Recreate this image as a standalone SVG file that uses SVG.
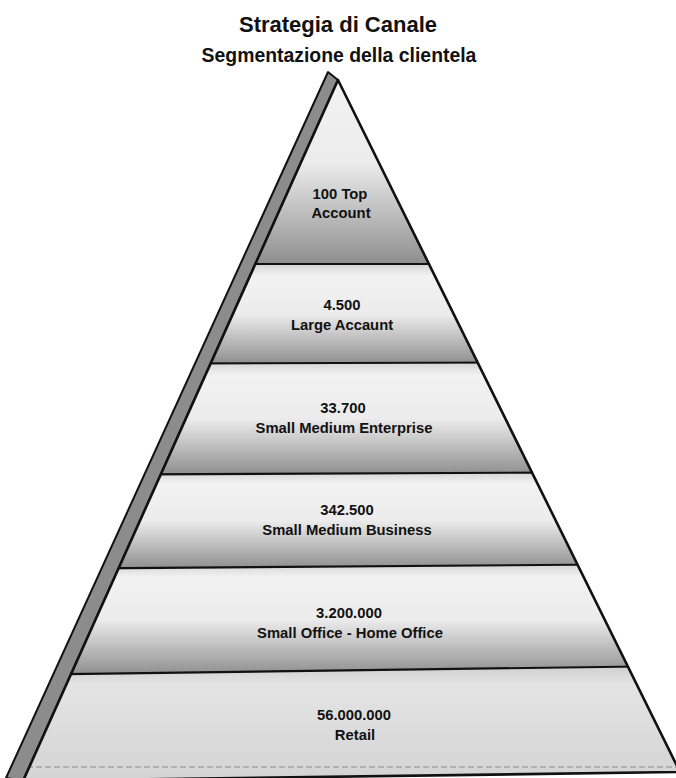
<svg xmlns="http://www.w3.org/2000/svg" width="676" height="778" viewBox="0 0 676 778">
  <style>
    .title { font-family: "Liberation Sans", Arial, sans-serif; font-weight: bold; fill: #111; text-anchor: middle; }
    .lbl { font-family: "Liberation Sans", Arial, sans-serif; font-weight: bold; font-size: 14.8px; fill: #111; text-anchor: middle; }
    .sep { stroke: #111; stroke-width: 2.2; fill: none; }
    .band { fill: url(#bandShade); stroke: none; }
    .edge { stroke: #111; stroke-width: 2.6; fill: none; stroke-linejoin: round; }
  </style>
  <defs>
    <!-- light at the top of each tier, darkening towards its lower edge -->
    <linearGradient id="bandShade" x1="0" y1="0" x2="0" y2="1">
      <stop offset="0" stop-color="#d4d4d4"/>
      <stop offset="0.12" stop-color="#f2f2f2"/>
      <stop offset="0.5" stop-color="#ececec"/>
      <stop offset="0.8" stop-color="#b4b4b4"/>
      <stop offset="1" stop-color="#8e8e8e"/>
    </linearGradient>
    <linearGradient id="baseShade" x1="0" y1="0" x2="0" y2="1">
      <stop offset="0" stop-color="#cfcfcf"/>
      <stop offset="0.15" stop-color="#e4e4e4"/>
      <stop offset="1" stop-color="#d2d2d2"/>
    </linearGradient>
    <clipPath id="pyr">
      <polygon points="338,80 680,772 23,781"/>
    </clipPath>
  </defs>

  <rect width="676" height="778" fill="#fff"/>

  <text class="title" x="338" y="32" font-size="22">Strategia di Canale</text>
  <text class="title" x="339" y="62" font-size="19.4">Segmentazione della clientela</text>

  <!-- side face of the pyramid -->
  <g id="side-face">
    <polygon points="328,72 6,778 23,781 338,80" fill="#8c8c8c" stroke="#111" stroke-width="2" stroke-linejoin="round"/>
  </g>

  <g clip-path="url(#pyr)">
    <g id="tier-1">
      <polygon class="band" points="0,60 676,60 676,264 0,264"/>
      <text class="lbl" x="340" y="199">100 Top</text>
      <text class="lbl" x="341" y="218">Account</text>
    </g>
    <g id="tier-2">
      <polygon class="band" points="0,264 676,264 676,362 0,364"/>
      <text class="lbl" x="342" y="310">4.500</text>
      <text class="lbl" x="342" y="330">Large Accaunt</text>
    </g>
    <g id="tier-3">
      <polygon class="band" points="0,364 676,362 676,472 0,475"/>
      <text class="lbl" x="343" y="413">33.700</text>
      <text class="lbl" x="344" y="433">Small Medium Enterprise</text>
    </g>
    <g id="tier-4">
      <polygon class="band" points="0,475 676,472 676,564 0,569"/>
      <text class="lbl" x="347" y="515">342.500</text>
      <text class="lbl" x="347" y="535">Small Medium Business</text>
    </g>
    <g id="tier-5">
      <polygon class="band" points="0,569 676,564 676,666 0,675"/>
      <text class="lbl" x="349" y="618">3.200.000</text>
      <text class="lbl" x="350" y="638">Small Office - Home Office</text>
    </g>
    <g id="tier-6">
      <polygon points="0,675 676,666 676,790 0,790" fill="url(#baseShade)"/>
      <text class="lbl" x="354" y="720">56.000.000</text>
      <text class="lbl" x="355" y="740">Retail</text>
    </g>

    <!-- tier dividers -->
    <g id="connectors">
      <line class="sep" x1="0" y1="264" x2="676" y2="264"/>
      <line class="sep" x1="0" y1="364" x2="676" y2="362"/>
      <line class="sep" x1="0" y1="475" x2="676" y2="472"/>
      <line class="sep" x1="0" y1="569" x2="676" y2="564"/>
      <line class="sep" x1="0" y1="675" x2="676" y2="666"/>
      <line x1="0" y1="767" x2="676" y2="767" stroke="#8a8a8a" stroke-width="1" stroke-dasharray="6 3"/>
    </g>
  </g>

  <g id="outline">
    <polygon class="edge" points="338,80 680,772 23,781"/>
  </g>
</svg>
